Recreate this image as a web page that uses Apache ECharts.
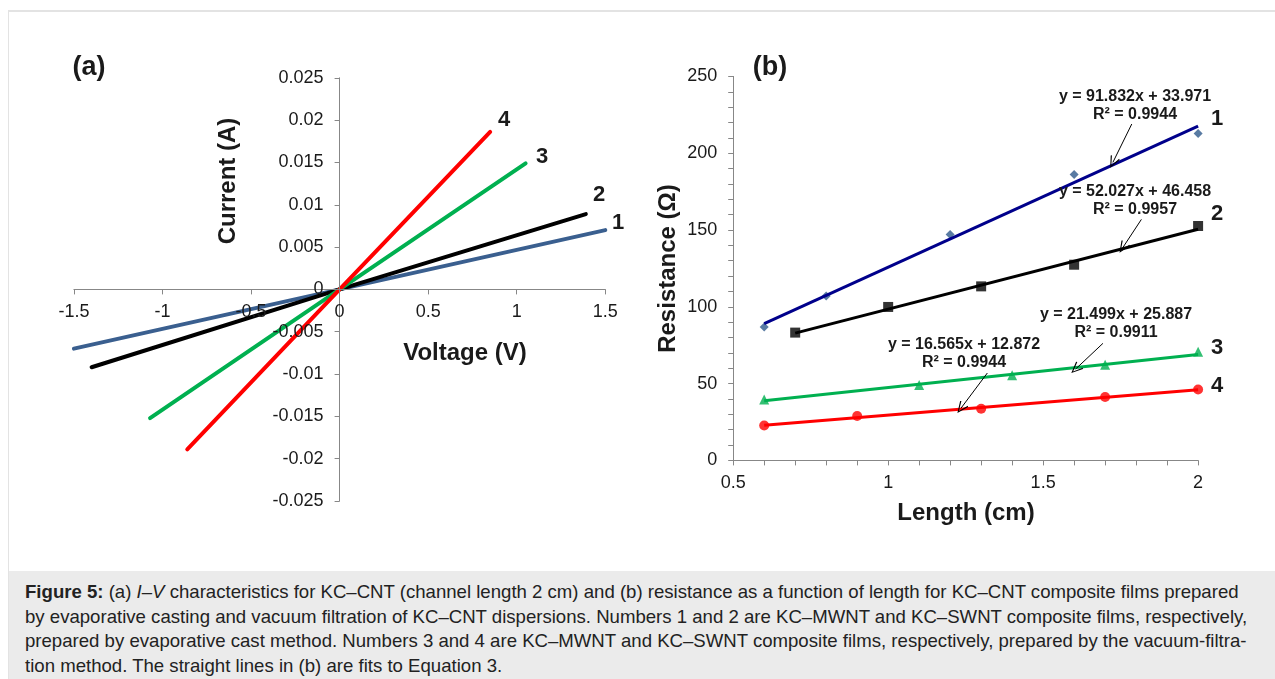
<!DOCTYPE html>
<html>
<head>
<meta charset="utf-8">
<title>Figure 5</title>
<script src="https://cdn.jsdelivr.net/npm/echarts@6/dist/echarts.min.js"></script>
<style>
  html, body { margin: 0; padding: 0; background: #fff; }
  #wrap { position: relative; width: 1275px; height: 679px; overflow: hidden; }
  #frame { position: absolute; left: 8px; top: 10px; right: 0; bottom: 0;
           border-top: 2px solid #e3e3e3; border-left: 1px solid #e3e3e3; }
  #chart { position: absolute; left: 0; top: 0; width: 1275px; height: 571px; }
  #caption { position: absolute; left: 9px; top: 571px; width: 1266px; height: 108px;
             box-sizing: border-box; padding: 9px 0 0 16px; background: #ebebeb;
             font-family: Arial, "Liberation Sans", sans-serif; font-size: 18.6px;
             line-height: 24.5px; color: #222; white-space: nowrap; }
</style>
</head>
<body>
<div id="wrap">
  <div id="frame"></div>
  <div id="chart"></div>
  <div id="caption">
    <b>Figure 5:</b> (a) <i>I</i>–<i>V</i> characteristics for KC–CNT (channel length 2 cm) and (b) resistance as a function of length for KC–CNT composite films prepared<br>
    by evaporative casting and vacuum filtration of KC–CNT dispersions. Numbers 1 and 2 are KC–MWNT and KC–SWNT composite films, respectively,<br>
    prepared by evaporative cast method. Numbers 3 and 4 are KC–MWNT and KC–SWNT composite films, respectively, prepared by the vacuum-filtra-<br>
    tion method. The straight lines in (b) are fits to Equation 3.
  </div>
</div>
<script>
// ---- Panel (a): I–V sweeps as [voltage (V), current (A)] ----
const sampleNames = ['1', '2', '3', '4'];
const iv1 = [[-1.5, -0.0070], [0, 0], [1.5, 0.0070]];
const iv2 = [[-1.4, -0.0092], [0, 0], [1.39, 0.0089]];
const iv3 = [[-1.07, -0.0152], [0, 0], [1.05, 0.0149]];
const iv4 = [[-0.86, -0.0189], [0, 0], [0.85, 0.0186]];
const voltageTicks = [-1.5, -1, -0.5, 0, 0.5, 1, 1.5];
const currentTicks = [-0.025, -0.02, -0.015, -0.01, -0.005, 0, 0.005, 0.01, 0.015, 0.02, 0.025];

// ---- Panel (b): resistance (Ω) against channel length (cm) ----
const len1 = [0.6, 0.8, 1.2, 1.6, 2.0];
const res1 = [86.8, 107.0, 147.0, 186.1, 212.8];
const len2 = [0.7, 1.0, 1.3, 1.6, 2.0];
const res2 = [83.2, 99.9, 113.3, 127.4, 152.6];
const len3 = [0.6, 1.1, 1.4, 1.7, 2.0];
const res3 = [39.7, 49.1, 55.4, 62.2, 70.7];
const len4 = [0.6, 0.9, 1.3, 1.7, 2.0];
const res4 = [22.7, 28.9, 33.6, 41.3, 46.2];
const lengthTicks = [0.5, 1, 1.5, 2];
const resistanceTicks = [0, 50, 100, 150, 200, 250];

// Linear fits R = a·L + b quoted on the plot
const fitSlope = [91.832, 52.027, 21.499, 16.565];
const fitIntercept = [33.971, 46.458, 25.887, 12.872];
const fitR2 = ['0.9944', '0.9957', '0.9911', '0.9944'];

const FONT = 'Arial, "Liberation Sans", sans-serif';
const TXT = '#1a1a1a';
const AXIS = '#878787';

const ivColors = ['#3a5f8f', '#000000', '#00b050', '#ff0000'];
const fitColors = ['#00008b', '#000000', '#00b050', '#ff0000'];
const markerColors = ['#2f5a8c', '#000000', '#00b050', '#ff0000'];
const markerShapes = ['diamond', 'rect', 'triangle', 'circle'];
const markerSizes = [9, 10, 10, 10];

const lengths = [len1, len2, len3, len4];
const resistances = [res1, res2, res3, res4];

// Arrow from each fit equation down to its line, in data units [start, tip]
const arrowCoords = [
  [[1.786, 219.0], [1.725, 194.0]],
  [[1.817, 156.9], [1.757, 138.5]],
  [[1.693, 76.2], [1.605, 59.5]],
  [[1.320, 56.9], [1.235, 34.0]]
];

// Plot areas (px)
const gridA = { left: 73.9, top: 77.8, width: 531.4, height: 423.2 };
const gridB = { left: 733.2, top: 76.4, width: 464.9, height: 384 };

// Panel (a) axes cross at the origin: shift each axis in from the grid edge
const vMin = voltageTicks[0], vMax = voltageTicks[voltageTicks.length - 1];
const iMin = currentTicks[0], iMax = currentTicks[currentTicks.length - 1];
const yAxisShift = -gridA.width * (0 - vMin) / (vMax - vMin);
const xAxisShift = -gridA.height * (0 - iMin) / (iMax - iMin);

const chart = echarts.init(document.getElementById('chart'), null, { renderer: 'canvas' });

function axisCommon(ticks, extra) {
  return Object.assign({
    type: 'value',
    min: ticks[0],
    max: ticks[ticks.length - 1],
    interval: ticks[1] - ticks[0],
    splitLine: { show: false },
    axisLine: { show: true, onZero: false, lineStyle: { color: AXIS, width: 1 } },
    axisTick: { show: true, inside: false, length: 5, lineStyle: { color: AXIS } },
    axisLabel: { color: TXT, fontFamily: FONT, fontSize: 18 },
    z: 5
  }, extra);
}

const ivSets = [iv1, iv2, iv3, iv4];
const series = [];

ivSets.forEach((d, i) => {
  series.push({
    name: 'IV ' + sampleNames[i],
    type: 'line',
    xAxisIndex: 0, yAxisIndex: 0,
    data: d,
    showSymbol: false,
    lineStyle: { color: ivColors[i], width: 4, cap: 'round' },
    silent: true,
    animation: false,
    z: 2 + i * 0.01
  });
});

const openArrow = 'path://M0,0 L5,9 L4,9.6 L0,2 L-4,9.6 L-5,9 Z';

lengths.forEach((xs, i) => {
  const lo = Math.min(...xs), hi = Math.max(...xs);
  // fit line across the measured range
  series.push({
    name: 'fit ' + sampleNames[i],
    type: 'line',
    xAxisIndex: 1, yAxisIndex: 1,
    data: [[lo, fitSlope[i] * lo + fitIntercept[i]], [hi, fitSlope[i] * hi + fitIntercept[i]]],
    showSymbol: false,
    lineStyle: { color: fitColors[i], width: 3 },
    silent: true,
    animation: false,
    z: 3,
    markLine: {
      silent: true,
      animation: false,
      symbol: ['none', openArrow],
      symbolSize: [10, 12],
      label: { show: false },
      lineStyle: { color: '#000', width: 1, type: 'solid' },
      data: [[{ coord: arrowCoords[i][0] }, { coord: arrowCoords[i][1] }]]
    }
  });
  series.push({
    name: 'data ' + sampleNames[i],
    type: 'scatter',
    xAxisIndex: 1, yAxisIndex: 1,
    data: xs.map((x, k) => [x, resistances[i][k]]),
    symbol: markerShapes[i],
    symbolSize: markerSizes[i],
    itemStyle: { color: markerColors[i] },
    silent: true,
    animation: false,
    z: 2
  });
});

function label(text, x, y, size, opts) {
  return Object.assign({
    type: 'text',
    x: x, y: y,
    silent: true,
    z: 10,
    style: {
      text: text, x: 0, y: 0,
      fill: TXT,
      font: 'bold ' + size + 'px ' + FONT,
      textAlign: 'center', textVerticalAlign: 'middle',
      align: 'center', verticalAlign: 'middle'
    }
  }, opts || {});
}

const fmt = v => v.toFixed(3);
const eqPos = [[1135, 97], [1135, 192], [1116, 315], [964, 344.5]];

const graphics = [
  label('(a)', 89, 68, 27),
  label('(b)', 770, 68, 27),
  label('Current (A)', 228.5, 181, 24, { rotation: Math.PI / 2 }),
  label('Voltage (V)', 465, 353, 24),
  label('Resistance (Ω)', 668.5, 268.5, 24, { rotation: Math.PI / 2 }),
  label('Length (cm)', 966, 513, 24),
  label(sampleNames[3], 504, 120, 22),
  label(sampleNames[2], 542, 157, 22),
  label(sampleNames[1], 599, 195, 22),
  label(sampleNames[0], 618, 223, 22),
  label(sampleNames[0], 1217, 119, 22),
  label(sampleNames[1], 1217, 213.5, 22),
  label(sampleNames[2], 1217, 348, 22),
  label(sampleNames[3], 1217, 386, 22)
];
eqPos.forEach((p, i) => {
  graphics.push(label('y = ' + fmt(fitSlope[i]) + 'x + ' + fmt(fitIntercept[i]), p[0], p[1], 16));
  graphics.push(label('R² = ' + fitR2[i], p[0], p[1] + 17.8, 16));
});

chart.setOption({
  animation: false,
  backgroundColor: 'transparent',
  textStyle: { fontFamily: FONT },
  grid: [
    Object.assign({ containLabel: false }, gridA),
    Object.assign({ containLabel: false }, gridB)
  ],
  xAxis: [
    axisCommon(voltageTicks, {
      gridIndex: 0,
      position: 'bottom',
      offset: xAxisShift,
      axisLabel: { color: TXT, fontFamily: FONT, fontSize: 18, margin: 14 }
    }),
    axisCommon(lengthTicks, {
      gridIndex: 1,
      minorTick: { show: true, splitNumber: 5, length: 5, lineStyle: { color: AXIS } },
      axisLabel: { color: TXT, fontFamily: FONT, fontSize: 18, margin: 14 }
    })
  ],
  yAxis: [
    axisCommon(currentTicks, {
      gridIndex: 0,
      position: 'left',
      offset: yAxisShift,
      axisLabel: { color: TXT, fontFamily: FONT, fontSize: 18, margin: 16,
                   formatter: v => String(+v.toFixed(3)) }
    }),
    axisCommon(resistanceTicks, {
      gridIndex: 1,
      minorTick: { show: true, splitNumber: 5, length: 5, lineStyle: { color: AXIS } },
      axisLabel: { color: TXT, fontFamily: FONT, fontSize: 18, margin: 16 }
    })
  ],
  series: series,
  graphic: graphics
});
</script>
</body>
</html>
